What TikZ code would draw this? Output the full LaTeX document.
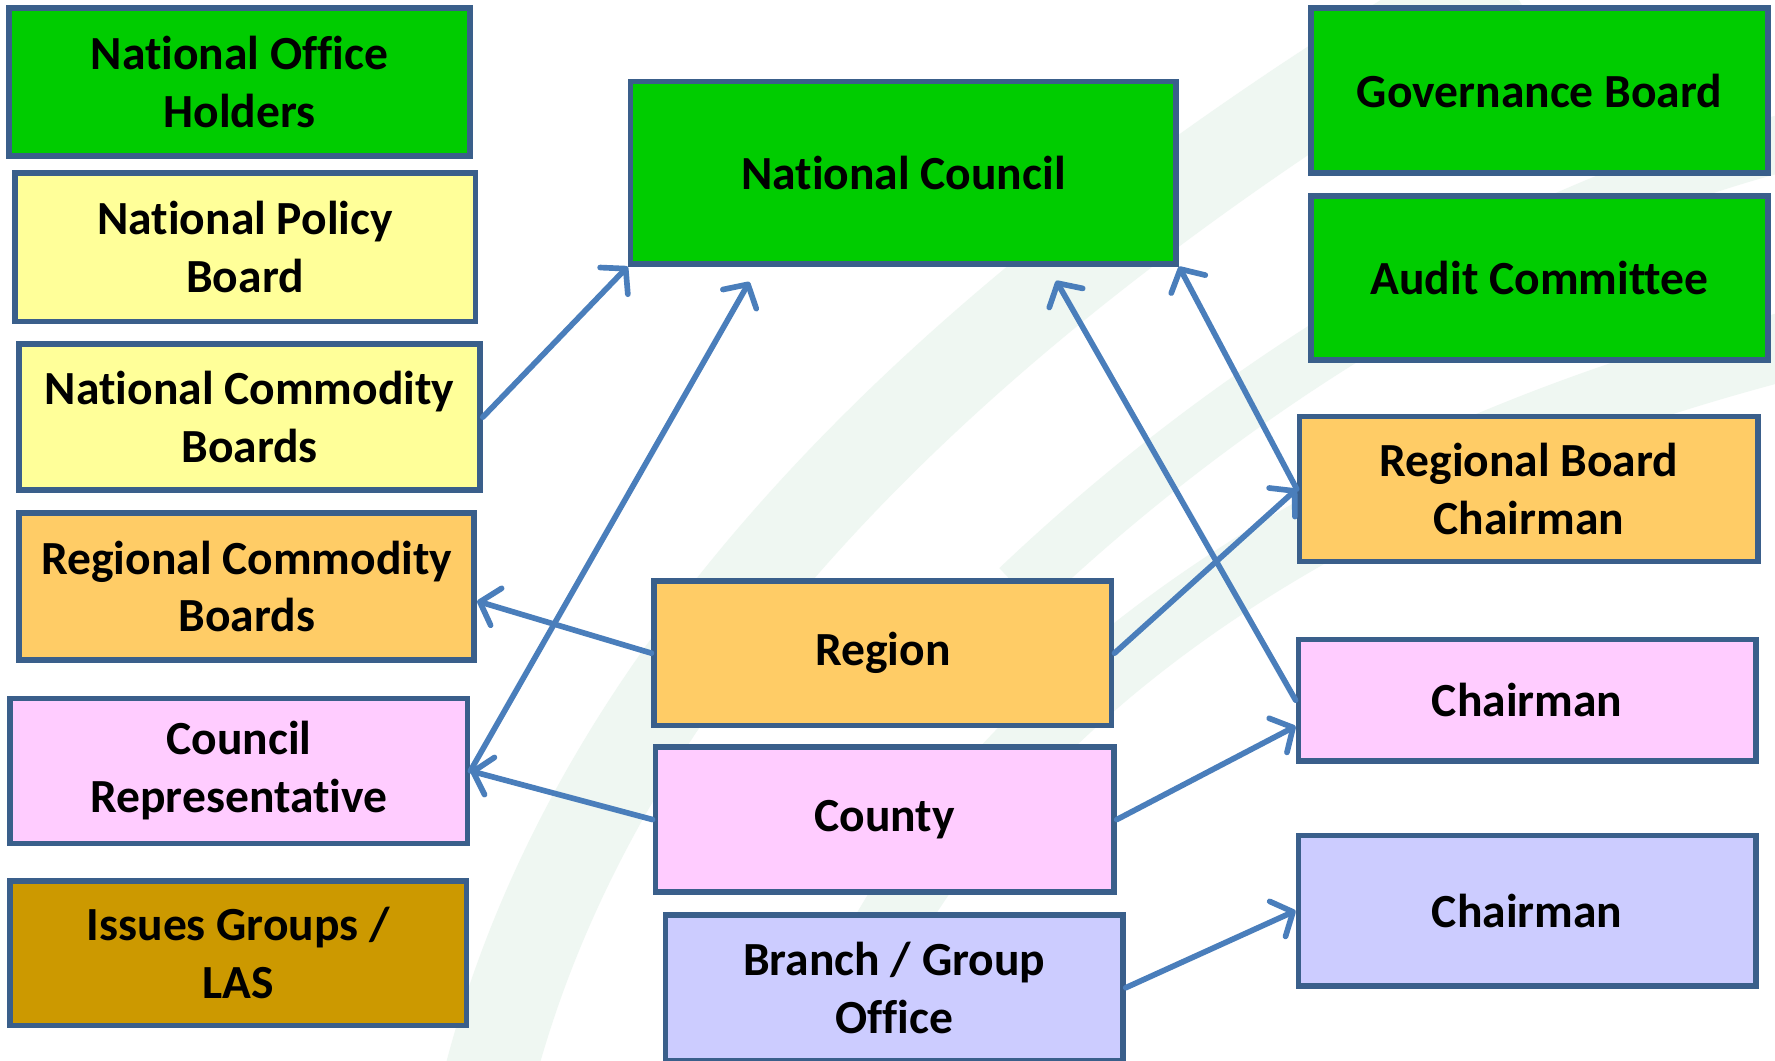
\documentclass[tikz,border=0pt]{standalone}
\usepackage{fontspec}
\setmainfont{Carlito}[Ligatures=NoCommon]
\usetikzlibrary{arrows.meta}
\definecolor{edge}{HTML}{3A5F8B}
\definecolor{link}{HTML}{4A7EBB}
\definecolor{cgreen}{HTML}{00CC00}
\definecolor{cyellow}{HTML}{FFFF99}
\definecolor{corange}{HTML}{FFCC66}
\definecolor{cpink}{HTML}{FFCCFF}
\definecolor{clav}{HTML}{CCCCFF}
\definecolor{cgold}{HTML}{CC9900}
\definecolor{swoosh}{HTML}{EFF7F2}
\begin{document}
\begin{tikzpicture}[x=1pt,y=-1pt]
\tikzstyle{box}=[draw=edge,line width=5pt,rectangle,align=center,inner sep=0pt,
  font=\fontsize{42}{51}\selectfont\bfseries];
\tikzstyle{link}=[draw=link,line width=5pt,line cap=round,
  -{Straight Barb[length=15pt,width=34pt,line cap=round,line join=round]}];
\useasboundingbox (0,0) rectangle (1568,937);
\fill[white] (0,0) rectangle (1568,937);
\draw[swoosh,line width=80pt] (430,960) .. controls (520,600) and (820,280) .. (1330,-20);
\draw[swoosh,line width=60pt] (720,960) .. controls (820,660) and (1120,420) .. (1600,300);
\draw[swoosh,line width=50pt] (900,520) .. controls (1100,330) and (1350,180) .. (1600,120);
\node[box,fill=cgreen,minimum width=407pt,minimum height=131pt] (noh) at (211.5,72.5) {National Office\\Holders};
\node[box,fill=cyellow,minimum width=407pt,minimum height=131pt] (npb) at (216.5,218.5) {National Policy\\Board};
\node[box,fill=cyellow,minimum width=407pt,minimum height=129pt] (ncb) at (220.5,368.5) {National Commodity\\Boards};
\node[box,fill=corange,minimum width=402pt,minimum height=130pt] (rcb) at (218,518) {Regional Commodity\\Boards};
\node[box,fill=cpink,minimum width=404pt,minimum height=128pt] (crep) at (211,681) {Council\\Representative};
\node[box,fill=cgold,minimum width=403pt,minimum height=128pt] (igl) at (210.5,842) {Issues Groups /\\LAS};
\node[box,fill=cgreen,minimum width=482pt,minimum height=161pt] (nc) at (798,152.5) {National Council};
\node[box,fill=cgreen,minimum width=404pt,minimum height=146pt] (gb) at (1360,80) {Governance Board};
\node[box,fill=cgreen,minimum width=404pt,minimum height=145pt] (ac) at (1360,245.5) {Audit Committee};
\node[box,fill=corange,minimum width=405pt,minimum height=128pt] (rbc) at (1350.5,432) {Regional Board\\Chairman};
\node[box,fill=corange,minimum width=404pt,minimum height=128pt] (reg) at (780,577) {Region};
\node[box,fill=cpink,minimum width=404pt,minimum height=107pt] (chp) at (1349,618.5) {Chairman};
\node[box,fill=cpink,minimum width=405pt,minimum height=128pt] (cty) at (781.5,724) {County};
\node[box,fill=clav,minimum width=404pt,minimum height=129pt] (bgo) at (790,872.5) {Branch / Group\\Office};
\node[box,fill=clav,minimum width=404pt,minimum height=133pt] (chl) at (1349,804.5) {Chairman};
\coordinate (ncl) at (662,249);
\coordinate (ncr) at (933,248);
\draw[link] (ncb.east) -- (nc.south west);
\draw[link] (crep.east) -- (ncl);
\draw[link] (reg.west) -- ([yshift=-13pt]rcb.east);
\draw[link] (cty.west) -- (crep.east);
\draw[link] (reg.east) -- (rbc.west);
\draw[link] (chp.west) -- (ncr);
\draw[link] (rbc.west) -- (nc.south east);
\draw[link] (cty.east) -- ([yshift=-23pt]chp.west);
\draw[link] (bgo.east) -- (chl.west);
\end{tikzpicture}
\end{document}
